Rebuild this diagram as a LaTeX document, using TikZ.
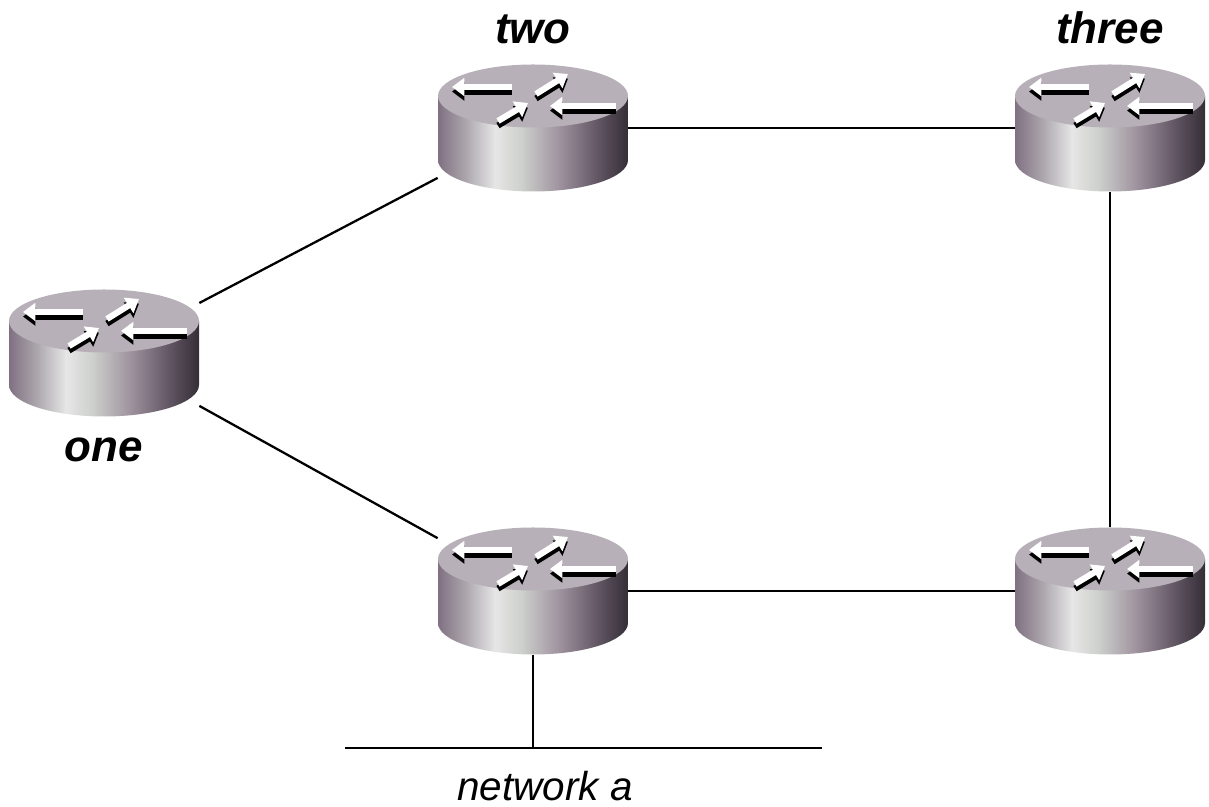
\documentclass[tikz,border=0pt]{standalone}
\usepackage{fontspec}
\setmainfont{Liberation Sans}
\usetikzlibrary{positioning,arrows.meta}
\definecolor{routertop}{RGB}{184,176,184}
\definecolor{sideA}{RGB}{128,112,130}
\definecolor{sideB}{RGB}{170,164,170}
\definecolor{sideC}{RGB}{230,230,230}
\definecolor{sideD}{RGB}{205,208,204}
\definecolor{sideE}{RGB}{158,146,158}
\definecolor{sideF}{RGB}{98,86,100}
\definecolor{sideG}{RGB}{52,46,54}
\pgfdeclarehorizontalshading{routerside}{100bp}{color(0bp)=(sideA); color(25bp)=(sideA); color(32bp)=(sideB); color(40bp)=(sideC); color(47bp)=(sideD); color(57bp)=(sideE); color(67bp)=(sideF); color(75bp)=(sideG); color(100bp)=(sideG)}
\tikzset{router bar/.style={line width=3.5pt, -{Triangle[length=7pt,width=10pt]}}}
\newcommand{\routerbar}[2]{%
  \draw[router bar, draw=black, fill=black] ([yshift=-2.6pt]#1) -- ([yshift=-2.6pt]#2);
  \draw[router bar, draw=white, fill=white] (#1) -- (#2);}
\newcommand{\routerglyph}{%
  \shade[shading=routerside] (-1.9,0.64) -- (-1.9,-0.64) arc[start angle=180, end angle=360, x radius=1.9, y radius=0.63] -- (1.9,0.64) -- cycle;
  \fill[routertop] (0,0.64) ellipse[x radius=1.9, y radius=0.63];
  \routerbar{-0.42,0.82}{-1.62,0.82}
  \routerbar{1.66,0.44}{0.34,0.44}
  \routerbar{0.06,0.68}{0.7,1.08}
  \routerbar{-0.7,0.14}{-0.1,0.5}
}

\begin{document}
\begin{tikzpicture}[router/.style = {shape = rectangle, minimum width = 3.8cm, minimum height = 2.54cm, inner sep = 0pt, path picture = {\begin{scope}[shift = {(path picture bounding box.center)}]\routerglyph\end{scope}}}, name label/.style = {inner sep = 0pt, font = \fontsize{25}{25}\selectfont\bfseries\itshape}, black edge/.style = {-, line width = 1.3pt, black}]
\useasboundingbox (0,0) rectangle (24.18,16.14);
\node[router] (0;0) at (2.08,9.08) {};
  \node[router] (1;1)  at (10.66,13.58) {};
  \node[router] (1;-1) at (10.66,4.32) {};
     \node[router] (2;1)  at (22.2,13.58) {};
     \node[router] (2;-1) at (22.2,4.32) {};
\node[name label, below = 0.42cm of 0;0] (l0;0) {one};
\node[name label, above = 0.4cm of 1;1] (l1;1) {two};
\node[name label, above = 0.4cm of 2;1] (l2;1) {three};
\coordinate (netL) at (6.9,1.18);
\coordinate (netR) at (16.44,1.18);
\coordinate (tap) at (10.66,1.18);
\node[inner sep = 0pt, font = \fontsize{23}{23}\selectfont\itshape] (net) at (10.9,0.42) {network a};
\foreach \j in {-1,1}
  { \draw[black edge] (0;0) -- (1;\j); }
\foreach \j in {-1,1}
  { \draw[black edge] (1;\j) -- (2;\j); }
\draw[black edge] (2;1) -- (2;-1);
\draw[black edge] (1;-1.south) -- (tap);
\draw[black edge] (netL) -- (netR);
\end{tikzpicture}
\end{document}
